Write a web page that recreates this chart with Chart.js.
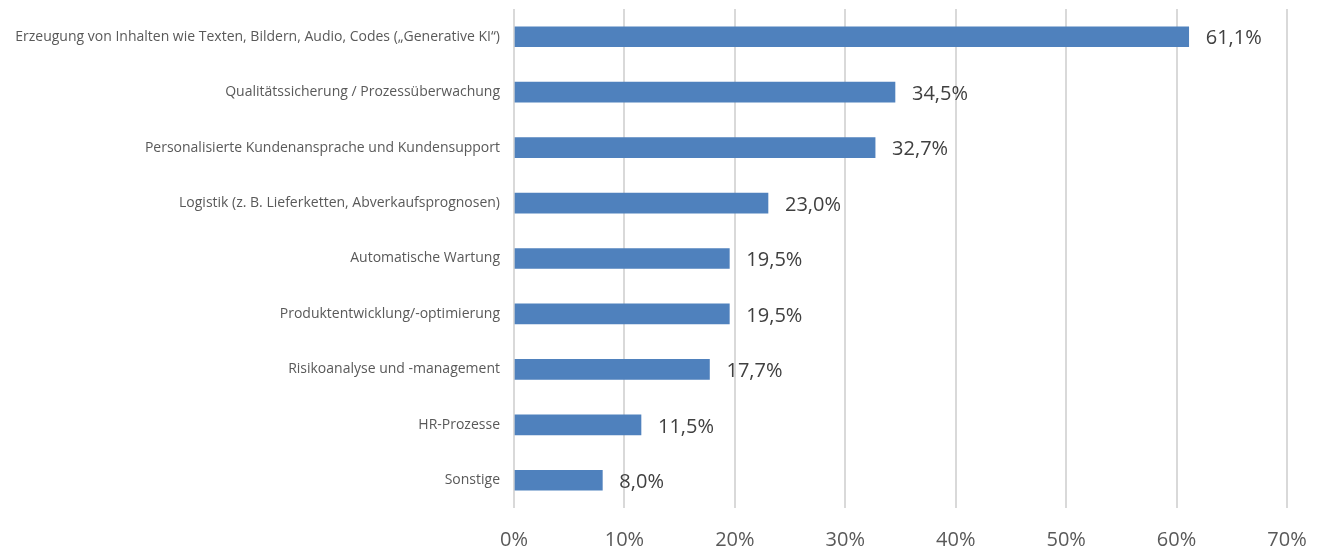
<!DOCTYPE html>
<html>
<head>
<meta charset="utf-8">
<script src="https://cdn.jsdelivr.net/npm/chart.js@4/dist/chart.umd.min.js"></script>
<style>
    html, body { margin: 0; padding: 0; background: #ffffff; }
    #wrap { width: 1324px; height: 549px; position: relative; }
</style>
</head>
<body>
<div id="wrap"><canvas id="chart"></canvas></div>
<script>
const categories = [
    'Erzeugung von Inhalten wie Texten, Bildern, Audio, Codes („Generative KI“)',
    'Qualitätssicherung / Prozessüberwachung',
    'Personalisierte Kundenansprache und Kundensupport',
    'Logistik (z. B. Lieferketten, Abverkaufsprognosen)',
    'Automatische Wartung',
    'Produktentwicklung/-optimierung',
    'Risikoanalyse und -management',
    'HR-Prozesse',
    'Sonstige',
];
const shares = [61.1, 34.5, 32.7, 23.0, 19.5, 19.5, 17.7, 11.5, 8.0];
const xTicks = [0, 10, 20, 30, 40, 50, 60, 70];

const fontFamily = '"Open Sans", "Noto Sans", sans-serif';

const formatPercent = (value, decimals) => value.toFixed(decimals).replace('.', ',') + '%';

// percentage labels to the right of each bar
const valueLabels = {
    id: 'valueLabels',
    afterDatasetsDraw(chart) {
        const { ctx } = chart;
        const meta = chart.getDatasetMeta(0);
        ctx.save();
        ctx.font = `20px ${fontFamily}`;
        ctx.fillStyle = '#404040';
        ctx.textAlign = 'left';
        ctx.textBaseline = 'middle';
        meta.data.forEach((bar, index) => {
            ctx.fillText(formatPercent(shares[index], 1), bar.x + 17, bar.y + 2);
        });
        ctx.restore();
    },
};

new Chart(document.getElementById('chart'), {
    type: 'bar',
    data: {
        labels: categories,
        datasets: [{
            data: shares,
            backgroundColor: '#4f81bd',
            borderWidth: 0,
            barThickness: 20,
        }],
    },
    options: {
        indexAxis: 'y',
        responsive: true,
        maintainAspectRatio: false,
        animation: false,
        layout: {
            padding: { top: 9, right: 37, left: 0, bottom: 0 },
        },
        plugins: {
            legend: { display: false },
            tooltip: { enabled: false },
        },
        scales: {
            x: {
                min: 0,
                max: 70,
                afterBuildTicks: (axis) => {
                    axis.ticks = xTicks.map((value) => ({ value }));
                },
                afterFit: (axis) => {
                    axis.height = 41;
                    axis.paddingLeft = 0;
                    axis.paddingRight = 0;
                },
                ticks: {
                    color: '#595959',
                    font: { family: fontFamily, size: 20 },
                    padding: 20,
                    maxRotation: 0,
                    callback: (value) => `${value}%`,
                },
                grid: {
                    color: '#d9d9d9',
                    lineWidth: 2,
                    drawTicks: false,
                },
                border: { display: false },
            },
            y: {
                afterFit: (axis) => {
                    axis.width = 514;
                    axis.paddingTop = 0;
                    axis.paddingBottom = 0;
                },
                ticks: {
                    color: '#595959',
                    font: { family: fontFamily, size: 14 },
                    padding: 14,
                },
                grid: { display: false, drawTicks: false },
                border: { display: false },
            },
        },
    },
    plugins: [valueLabels],
});
</script>
</body>
</html>
